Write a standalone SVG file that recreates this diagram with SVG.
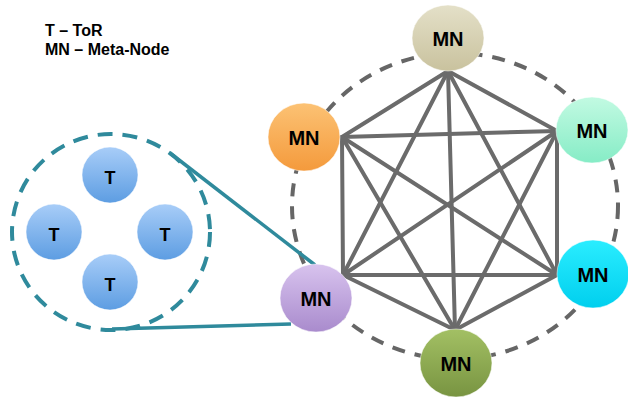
<svg xmlns="http://www.w3.org/2000/svg" width="628" height="403" viewBox="0 0 628 403">
<defs>
<linearGradient id="gBeige" x1="0" y1="0" x2="0" y2="1"><stop offset="0" stop-color="#e4e0c8"/><stop offset="1" stop-color="#c9c29e"/></linearGradient>
<linearGradient id="gOrange" x1="0" y1="0" x2="0" y2="1"><stop offset="0" stop-color="#fcc274"/><stop offset="1" stop-color="#f49a3c"/></linearGradient>
<linearGradient id="gMint" x1="0" y1="0" x2="0" y2="1"><stop offset="0" stop-color="#c2fae2"/><stop offset="1" stop-color="#86ecc6"/></linearGradient>
<linearGradient id="gCyan" x1="0" y1="0" x2="0" y2="1"><stop offset="0" stop-color="#2aedff"/><stop offset="1" stop-color="#00cfee"/></linearGradient>
<linearGradient id="gPurple" x1="0" y1="0" x2="0" y2="1"><stop offset="0" stop-color="#d8c3ee"/><stop offset="1" stop-color="#a98bcd"/></linearGradient>
<linearGradient id="gGreen" x1="0" y1="0" x2="0" y2="1"><stop offset="0" stop-color="#a3c064"/><stop offset="1" stop-color="#789441"/></linearGradient>
<linearGradient id="gBlue" x1="0" y1="0" x2="0" y2="1"><stop offset="0" stop-color="#a8cdf8"/><stop offset="1" stop-color="#5d9de2"/></linearGradient>
</defs>
<style>
.lbl{font-family:"Liberation Sans",Arial,sans-serif;font-weight:bold;fill:#000}
.mn{font-size:20px;text-anchor:middle}
.t{font-size:18px;text-anchor:middle}
.edge{stroke:#6b6b6b;stroke-width:4;fill:none;stroke-linecap:round}
.ring{stroke:#666;stroke-width:4;fill:none;stroke-dasharray:13 10}
.tring{stroke:#2f8a9c;stroke-width:4;fill:none;stroke-dasharray:15 10}
.tline{stroke:#2f8a9c;stroke-width:3.5;fill:none}
.node{stroke:#ffffff;stroke-opacity:0.5;stroke-width:1}
</style>
<text class="lbl" x="45" y="36" font-size="16">T – ToR</text>
<text class="lbl" x="45" y="55" font-size="16">MN – Meta-Node</text>
<ellipse class="ring" cx="455" cy="206" rx="163" ry="153"/>
<ellipse class="tring" cx="111" cy="232" rx="99" ry="98"/>
<g id="connectors">
<line class="edge" x1="448" y1="71" x2="342" y2="137"/>
<line class="edge" x1="448" y1="71" x2="557" y2="131"/>
<line class="edge" x1="448" y1="71" x2="343" y2="275"/>
<line class="edge" x1="448" y1="71" x2="557" y2="275"/>
<line class="edge" x1="448" y1="71" x2="455" y2="330"/>
<line class="edge" x1="342" y1="137" x2="557" y2="131"/>
<line class="edge" x1="342" y1="137" x2="343" y2="275"/>
<line class="edge" x1="342" y1="137" x2="557" y2="275"/>
<line class="edge" x1="342" y1="137" x2="455" y2="330"/>
<line class="edge" x1="557" y1="131" x2="343" y2="275"/>
<line class="edge" x1="557" y1="131" x2="557" y2="275"/>
<line class="edge" x1="557" y1="131" x2="455" y2="330"/>
<line class="edge" x1="343" y1="275" x2="557" y2="275"/>
<line class="edge" x1="343" y1="275" x2="455" y2="330"/>
<line class="edge" x1="557" y1="275" x2="455" y2="330"/>
<line class="tline" x1="170" y1="153" x2="315" y2="265"/>
<line class="tline" x1="112" y1="329" x2="291" y2="324"/>
</g>
<g id="mn-top"><ellipse class="node" cx="448" cy="38" rx="36" ry="33" fill="url(#gBeige)"/><text class="lbl mn" x="448" y="46">MN</text></g>
<g id="mn-left"><ellipse class="node" cx="304" cy="137" rx="36" ry="34" fill="url(#gOrange)"/><text class="lbl mn" x="304" y="145">MN</text></g>
<g id="mn-right"><ellipse class="node" cx="592" cy="130" rx="36" ry="33" fill="url(#gMint)"/><text class="lbl mn" x="592" y="138">MN</text></g>
<g id="mn-cyan"><ellipse class="node" cx="593" cy="274" rx="36" ry="34" fill="url(#gCyan)"/><text class="lbl mn" x="593" y="282">MN</text></g>
<g id="mn-purple"><ellipse class="node" cx="316" cy="298" rx="36" ry="34" fill="url(#gPurple)"/><text class="lbl mn" x="316" y="306">MN</text></g>
<g id="mn-green"><ellipse class="node" cx="456" cy="363" rx="36" ry="34" fill="url(#gGreen)"/><text class="lbl mn" x="456" y="371">MN</text></g>
<g id="t-top"><circle class="node" cx="110" cy="175" r="28" fill="url(#gBlue)"/><text class="lbl t" x="110" y="184">T</text></g>
<g id="t-left"><circle class="node" cx="54" cy="232" r="28" fill="url(#gBlue)"/><text class="lbl t" x="54" y="241">T</text></g>
<g id="t-right"><circle class="node" cx="165" cy="232" r="28" fill="url(#gBlue)"/><text class="lbl t" x="165" y="241">T</text></g>
<g id="t-bottom"><circle class="node" cx="110" cy="282" r="28" fill="url(#gBlue)"/><text class="lbl t" x="110" y="291">T</text></g>
</svg>
